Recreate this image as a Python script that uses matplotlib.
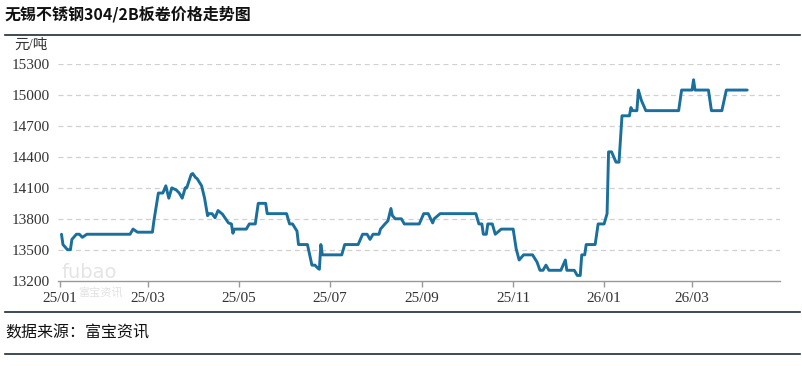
import numpy as np
import pandas as pd
import matplotlib
matplotlib.use("Agg")
import matplotlib.pyplot as plt
import matplotlib.dates as mdates

# 无锡 304/2B 板卷价格 (元/吨)
dates = [
    "2025-01-02", "2025-01-03", "2025-01-06", "2025-01-08", "2025-01-09", "2025-01-12",
    "2025-01-14", "2025-01-16", "2025-01-19", "2025-02-17", "2025-02-19", "2025-02-22",
    "2025-03-04", "2025-03-05", "2025-03-08", "2025-03-11", "2025-03-13", "2025-03-15",
    "2025-03-17", "2025-03-20", "2025-03-22", "2025-03-24", "2025-03-26", "2025-03-27",
    "2025-03-30", "2025-03-31", "2025-04-02", "2025-04-03", "2025-04-06", "2025-04-08",
    "2025-04-10", "2025-04-11", "2025-04-13", "2025-04-15", "2025-04-17", "2025-04-20",
    "2025-04-24", "2025-04-26", "2025-04-27", "2025-04-28", "2025-05-06", "2025-05-08",
    "2025-05-12", "2025-05-14", "2025-05-19", "2025-05-20", "2025-06-02", "2025-06-04",
    "2025-06-06", "2025-06-09", "2025-06-10", "2025-06-16", "2025-06-19", "2025-06-21",
    "2025-06-23", "2025-06-24", "2025-06-25", "2025-06-26", "2025-07-09", "2025-07-11",
    "2025-07-20", "2025-07-23", "2025-07-26", "2025-07-28", "2025-07-30", "2025-08-03",
    "2025-08-04", "2025-08-07", "2025-08-09", "2025-08-11", "2025-08-12", "2025-08-14",
    "2025-08-18", "2025-08-20", "2025-08-30", "2025-09-02", "2025-09-05", "2025-09-08",
    "2025-09-09", "2025-09-13", "2025-10-07", "2025-10-09", "2025-10-11", "2025-10-12",
    "2025-10-14", "2025-10-15", "2025-10-18", "2025-10-20", "2025-10-24", "2025-11-01",
    "2025-11-03", "2025-11-05", "2025-11-08", "2025-11-14", "2025-11-17", "2025-11-19",
    "2025-11-21", "2025-11-23", "2025-11-25", "2025-12-03", "2025-12-06", "2025-12-07",
    "2025-12-12", "2025-12-14", "2025-12-16", "2025-12-17", "2025-12-19", "2025-12-20",
    "2025-12-26", "2025-12-28", "2026-01-01", "2026-01-03", "2026-01-04", "2026-01-06",
    "2026-01-09", "2026-01-11", "2026-01-13", "2026-01-18", "2026-01-19", "2026-01-20",
    "2026-01-23", "2026-01-24", "2026-01-26", "2026-01-29", "2026-02-20", "2026-02-22",
    "2026-03-01", "2026-03-02", "2026-03-03", "2026-03-12", "2026-03-14", "2026-03-21",
    "2026-03-24", "2026-04-07",
]
prices = [
    13650, 13550, 13500, 13500, 13600, 13650,
    13650, 13620, 13650, 13650, 13700, 13670,
    13670, 13780, 14050, 14050, 14120, 14000,
    14100, 14080, 14050, 14000, 14100, 14100,
    14230, 14240, 14200, 14190, 14120, 14000,
    13830, 13850, 13850, 13810, 13880, 13845,
    13760, 13750, 13660, 13700, 13700, 13750,
    13750, 13950, 13950, 13850, 13850, 13750,
    13750, 13680, 13550, 13550, 13350, 13350,
    13320, 13310, 13550, 13450, 13450, 13550,
    13550, 13650, 13650, 13600, 13650, 13650,
    13700, 13750, 13780, 13900, 13830, 13800,
    13800, 13750, 13750, 13850, 13850, 13760,
    13800, 13850, 13850, 13750, 13750, 13650,
    13650, 13750, 13750, 13650, 13700, 13700,
    13510, 13400, 13450, 13450, 13380, 13300,
    13300, 13350, 13300, 13300, 13400, 13300,
    13300, 13250, 13250, 13450, 13450, 13550,
    13550, 13750, 13750, 13850, 14450, 14450,
    14350, 14350, 14800, 14800, 14880, 14850,
    14850, 15050, 14950, 14850, 14850, 15050,
    15050, 15150, 15050, 15050, 14850, 14850,
    15050, 15050,
]
yticks = [13200, 13500, 13800, 14100, 14400, 14700, 15000, 15300]
xtick_dates = ["2025-01-01", "2025-03-01", "2025-05-01", "2025-07-01",
               "2025-09-01", "2025-11-01", "2026-01-01", "2026-03-01"]
xtick_labels = ["25/01", "25/03", "25/05", "25/07", "25/09", "25/11", "26/01", "26/03"]

cjk = ["Noto Sans CJK SC", "DejaVu Sans"]
serif = ["Liberation Serif", "Noto Sans CJK SC"]

W, H = 803, 366
fig = plt.figure(figsize=(W / 100, H / 100), dpi=100)
fig.patch.set_facecolor("white")

ax = fig.add_axes([58 / W, 1 - 280.6 / H, (780 - 58) / W, (280.6 - 64.3) / H])
x = pd.to_datetime(dates)
ax.plot(x, prices, color="#1b6f9c", linewidth=2.1, solid_joinstyle="round",
        solid_capstyle="round", zorder=3)

ax.set_ylim(13200, 15300)
ax.set_xlim(pd.Timestamp("2024-12-30 16:00"), pd.Timestamp("2026-04-29"))
ax.set_yticks(yticks)
ax.set_yticklabels([str(v) for v in yticks], family=serif, fontsize=11, color="#333333")
ax.set_xticks(pd.to_datetime(xtick_dates))
ax.set_xticklabels(xtick_labels, family=serif, fontsize=11, color="#333333")

for v in yticks[1:]:
    ax.axhline(v, color="#d0d0d0", linewidth=0.9, linestyle=(0, (4, 3)), zorder=1)

for s in ["top", "right", "left"]:
    ax.spines[s].set_visible(False)
ax.spines["bottom"].set_color("#999999")
ax.spines["bottom"].set_linewidth(1.0)
ax.tick_params(axis="y", length=0, pad=6)
ax.tick_params(axis="x", length=4, width=1, color="#999999", pad=4)

# watermark
fig.text(62 / W, 1 - 272 / H, "fubao", fontsize=14, color="#e2e2e2", alpha=0.9,
         family="DejaVu Sans", va="center", ha="left", zorder=0)
fig.text(78 / W, 1 - 292 / H, "富宝资讯", fontsize=8, color="#e2e2e2",
         family=cjk, va="center", ha="left", zorder=0)

# title and frame lines
fig.text(5 / W, 1 - 14 / H, "无锡不锈钢304/2B板卷价格走势图", fontsize=11.5,
         fontweight="bold", family=cjk, va="center", ha="left", color="#111111")
fig.text(14 / W, 1 - 45 / H, "元/吨", fontsize=10.5, family=serif,
         va="center", ha="left", color="#333333")
fig.text(5 / W, 1 - 333 / H, "数据来源：富宝资讯", fontsize=11.5, family=cjk,
         va="center", ha="left", color="#111111")
for yy in [35, 312, 354]:
    fig.add_artist(plt.Line2D([5 / W, 800 / W], [1 - yy / H, 1 - yy / H],
                              color="#1c2b3a", linewidth=1.2, transform=fig.transFigure,
                              zorder=0))

fig.savefig("out.png", dpi=100)
